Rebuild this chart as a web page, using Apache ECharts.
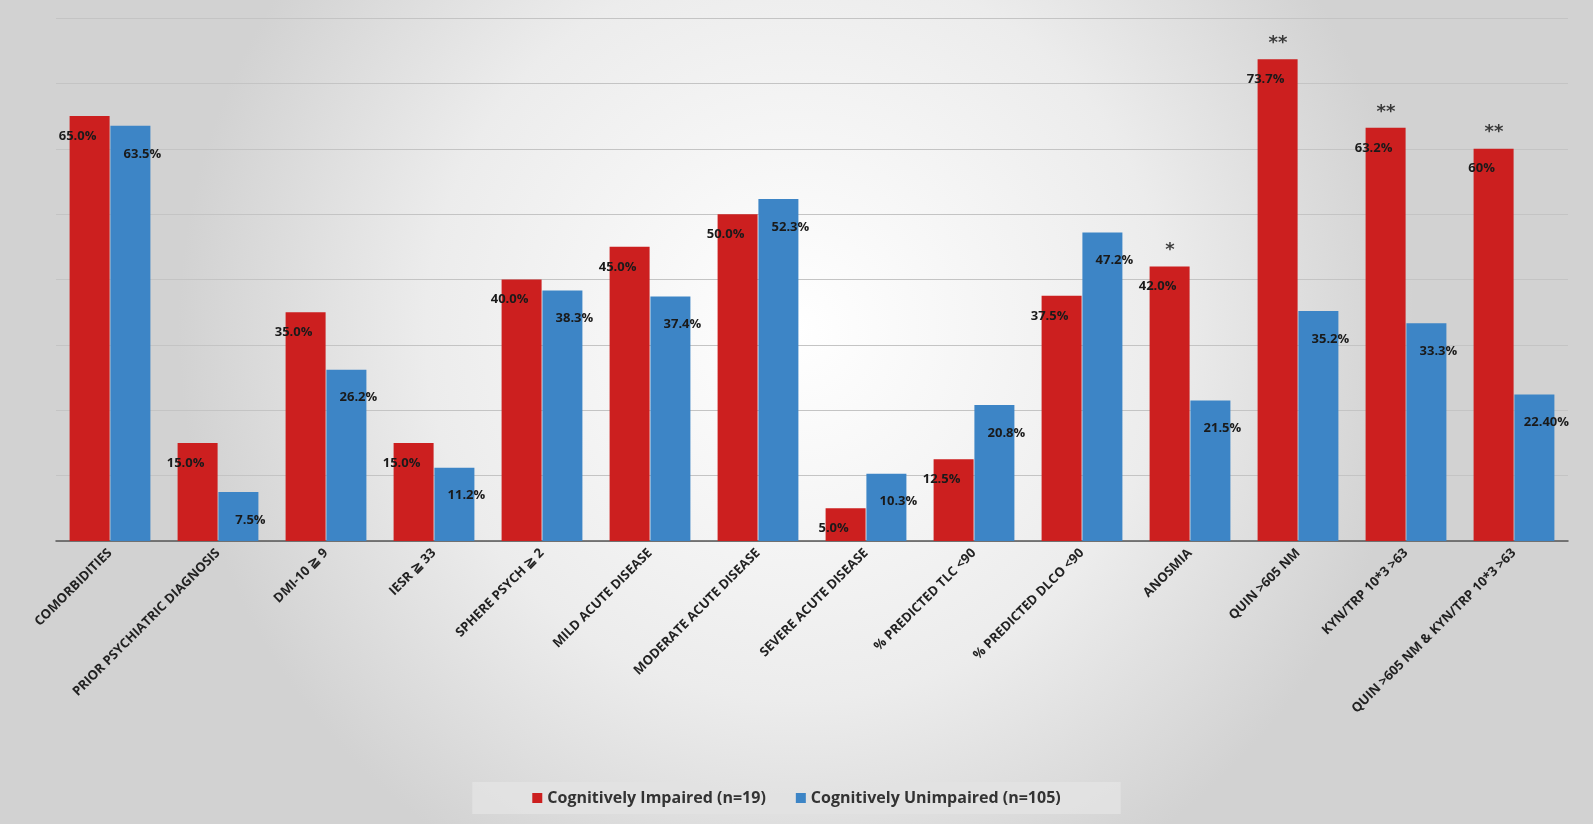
<!DOCTYPE html>
<html>
<head>
<meta charset="UTF-8">
<script src="https://cdn.jsdelivr.net/npm/echarts@6/dist/echarts.min.js"></script>
<style>html,body{margin:0;padding:0;background:#fff}#c{width:1593px;height:824px}</style>
</head>
<body>
<div id="c"></div>
<script>
const categories = ['COMORBIDITIES', 'PRIOR PSYCHIATRIC DIAGNOSIS', 'DMI-10 ≧ 9', 'IESR ≧ 33', 'SPHERE PSYCH ≧ 2',
  'MILD ACUTE DISEASE', 'MODERATE ACUTE DISEASE', 'SEVERE ACUTE DISEASE', '% PREDICTED TLC <90',
  '% PREDICTED DLCO <90', 'ANOSMIA', 'QUIN >605 NM', 'KYN/TRP 10*3 >63', 'QUIN >605 NM & KYN/TRP 10*3 >63'];
const impaired = [65.0, 15.0, 35.0, 15.0, 40.0, 45.0, 50.0, 5.0, 12.5, 37.5, 42.0, 73.7, 63.2, 60];
const impairedLabels = ['65.0%', '15.0%', '35.0%', '15.0%', '40.0%', '45.0%', '50.0%', '5.0%', '12.5%', '37.5%', '42.0%', '73.7%', '63.2%', '60%'];
const unimpaired = [63.5, 7.5, 26.2, 11.2, 38.3, 37.4, 52.3, 10.3, 20.8, 47.2, 21.5, 35.2, 33.3, 22.4];
const unimpairedLabels = ['63.5%', '7.5%', '26.2%', '11.2%', '38.3%', '37.4%', '52.3%', '10.3%', '20.8%', '47.2%', '21.5%', '35.2%', '33.3%', '22.40%'];
const stars = ['', '', '', '', '', '', '', '', '', '', '*', '**', '**', '**'];

const chart = echarts.init(document.getElementById('c'));
const lbl = {fontFamily: 'Open Sans', fontWeight: 'bold', fontSize: 13, color: '#1a1a1a'};
chart.setOption({
  backgroundColor: {type: 'radial', x: 0.5, y: 0.4, r: 0.75,
    colorStops: [{offset: 0, color: '#ffffff'}, {offset: 0.6, color: '#ececec'}, {offset: 1, color: '#d2d2d2'}]},
  animation: false,
  grid: {left: 56, right: 25, top: 18, bottom: 283},
  legend: {
    bottom: 10, left: 'center', itemWidth: 10, itemHeight: 10, itemGap: 30, icon: 'rect',
    padding: [8, 60], backgroundColor: 'rgba(226,226,226,0.9)',
    textStyle: {fontFamily: 'Open Sans', fontSize: 16, fontWeight: 'bold', color: '#333'},
    data: ['Cognitively Impaired (n=19)', 'Cognitively Unimpaired (n=105)']
  },
  xAxis: {
    type: 'category', data: categories,
    axisTick: {show: false},
    axisLine: {lineStyle: {color: '#555', width: 1.5}},
    axisLabel: {rotate: 45, interval: 0, fontFamily: 'Open Sans', fontSize: 13, fontWeight: 'bold', color: '#222', margin: 10}
  },
  yAxis: {
    type: 'value', min: 0, max: 80, interval: 10,
    axisLabel: {show: false}, axisLine: {show: false}, axisTick: {show: false},
    splitLine: {lineStyle: {color: '#c4c4c4'}}
  },
  series: [
    {
      name: 'Cognitively Impaired (n=19)', type: 'bar', data: impaired,
      barWidth: 40, barGap: '2%', itemStyle: {color: '#cc1f1f'},
      label: {show: true, position: [8, 20], align: 'center', verticalAlign: 'middle', ...lbl,
        formatter: p => impairedLabels[p.dataIndex]}
    },
    {
      name: 'Cognitively Unimpaired (n=105)', type: 'bar', data: unimpaired,
      barWidth: 40, itemStyle: {color: '#3d85c6'},
      label: {show: true, position: [32, 28], align: 'center', verticalAlign: 'middle', ...lbl,
        formatter: p => unimpairedLabels[p.dataIndex]}
    },
    {
      type: 'scatter', data: impaired, symbolSize: 0, silent: true,
      label: {show: true, position: 'top', offset: [-20, -2], fontSize: 18, fontWeight: 'bold', color: '#111',
        fontFamily: 'DejaVu Sans', formatter: p => stars[p.dataIndex]}
    }
  ]
});
</script>
</body>
</html>
